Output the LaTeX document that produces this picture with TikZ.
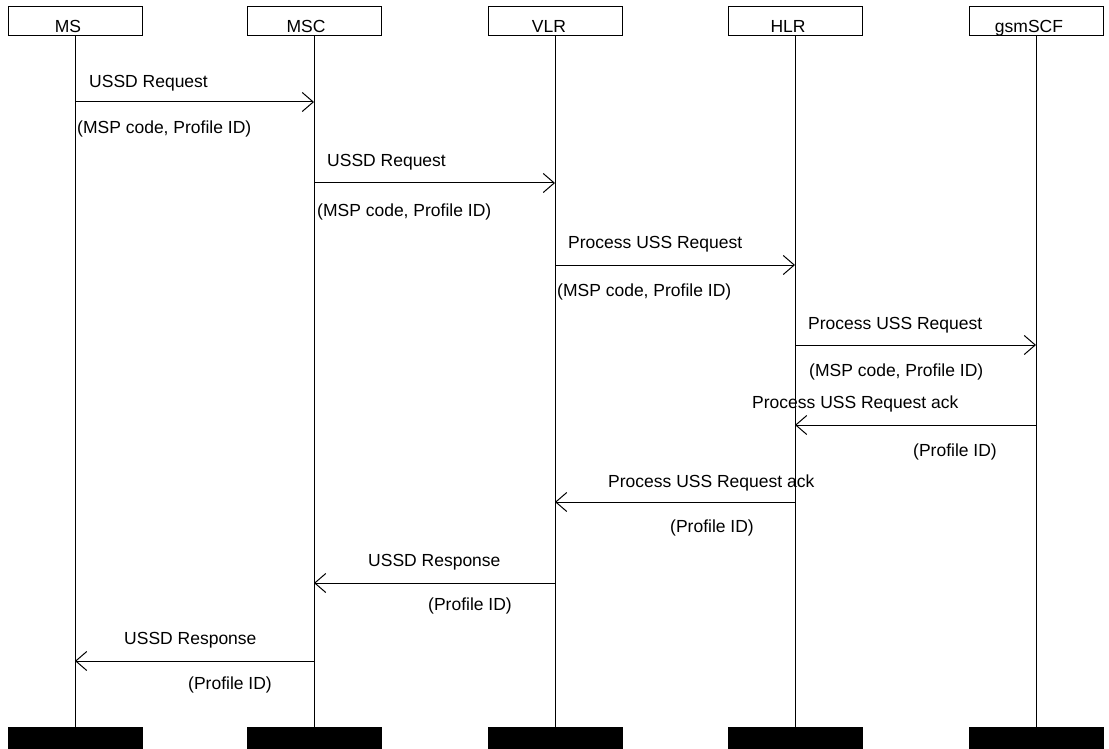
\documentclass[tikz,border=0pt]{standalone}
\usepackage{fontspec}
\setmainfont{Liberation Sans}
\usetikzlibrary{arrows.meta}
\begin{document}
\begin{tikzpicture}[x=1pt,y=-1pt,
  hdr/.style={draw, line width=1pt, minimum width=134pt, minimum height=29pt, inner sep=0pt},
  hdrtext/.style={anchor=base, inner sep=0pt, font=\fontsize{17.5}{20}\selectfont},
  endbox/.style={fill=black, minimum width=135pt, minimum height=23pt, inner sep=0pt},
  life/.style={line width=1pt},
  msg/.style={line width=1pt, -{Straight Barb[length=11pt,width=19pt]}},
  lbl/.style={anchor=base west, inner sep=0pt, font=\fontsize{17.5}{20}\selectfont}]
\useasboundingbox (0,0) rectangle (1109,749);

% header boxes
\node[hdr] (ms)  at (75,21.5)   {};
\node[hdr] (msc) at (314,21.5)  {};
\node[hdr] (vlr) at (555,21.5)  {};
\node[hdr] (hlr) at (795,21.5)  {};
\node[hdr] (scf) at (1036,21.5) {};
\node[hdrtext] (mst)  at (68,33)   {MS};
\node[hdrtext] (msct) at (306,33)  {MSC};
\node[hdrtext] (vlrt) at (549,33)  {VLR};
\node[hdrtext] (hlrt) at (788,33)  {HLR};
\node[hdrtext] (scft) at (1029,33) {gsmSCF};

% end boxes
\node[endbox] (msend)  at (75,738.5)   {};
\node[endbox] (mscend) at (314,738.5)  {};
\node[endbox] (vlrend) at (555,738.5)  {};
\node[endbox] (hlrend) at (795,738.5)  {};
\node[endbox] (scfend) at (1036,738.5) {};

% lifelines
\draw[life] (ms.south)  -- (msend.north);
\draw[life] (msc.south) -- (mscend.north);
\draw[life] (vlr.south) -- (vlrend.north);
\draw[life] (hlr.south) -- (hlrend.north);
\draw[life] (scf.south) -- (scfend.north);

% message rows
\coordinate (r1) at (0,102);
\coordinate (r2) at (0,183);
\coordinate (r3) at (0,265);
\coordinate (r4) at (0,345);
\coordinate (r5) at (0,425);
\coordinate (r6) at (0,502);
\coordinate (r7) at (0,583);
\coordinate (r8) at (0,661);

\draw[msg] (ms |- r1)  -- (msc |- r1);
\draw[msg] (msc |- r2) -- (vlr |- r2);
\draw[msg] (vlr |- r3) -- (hlr |- r3);
\draw[msg] (hlr |- r4) -- (scf |- r4);
\draw[msg] (scf |- r5) -- (hlr |- r5);
\draw[msg] (hlr |- r6) -- (vlr |- r6);
\draw[msg] (vlr |- r7) -- (msc |- r7);
\draw[msg] (msc |- r8) -- (ms |- r8);

% labels
\node[lbl] (l1a) at (89,88)   {USSD Request};
\node[lbl] (l1b) at (77,134)  {(MSP code, Profile ID)};
\node[lbl] (l2a) at (327,167) {USSD Request};
\node[lbl] (l2b) at (317,216) {(MSP code, Profile ID)};
\node[lbl] (l3a) at (568,248) {Process USS Request};
\node[lbl] (l3b) at (557,296) {(MSP code, Profile ID)};
\node[lbl] (l4a) at (808,329) {Process USS Request};
\node[lbl] (l4b) at (809,376) {(MSP code, Profile ID)};
\node[lbl] (l5a) at (752,408) {Process USS Request ack};
\node[lbl] (l5b) at (913,456) {(Profile ID)};
\node[lbl] (l6a) at (608,487) {Process USS Request ack};
\node[lbl] (l6b) at (670,532) {(Profile ID)};
\node[lbl] (l7a) at (368,566) {USSD Response};
\node[lbl] (l7b) at (428,610) {(Profile ID)};
\node[lbl] (l8a) at (124,644) {USSD Response};
\node[lbl] (l8b) at (188,689) {(Profile ID)};
\end{tikzpicture}
\end{document}
